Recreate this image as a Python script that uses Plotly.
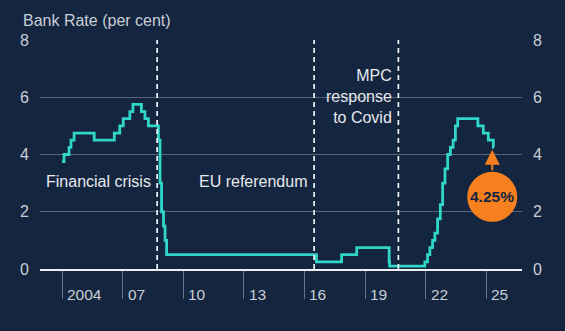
import plotly.graph_objects as go

# Bank Rate change dates and levels (per cent)
dates = ["2004-01-01", "2004-02-05", "2004-05-06", "2004-06-10", "2004-08-05",
         "2005-08-04", "2006-08-03", "2006-11-09", "2007-01-11", "2007-05-10",
         "2007-07-05", "2007-12-06", "2008-02-07", "2008-04-10", "2008-10-08",
         "2008-11-06", "2008-12-04", "2009-01-08", "2009-02-05", "2009-03-05",
         "2016-08-04", "2017-11-02", "2018-08-02", "2020-03-11", "2020-03-19",
         "2021-12-16", "2022-02-03", "2022-03-17", "2022-05-05", "2022-06-16",
         "2022-08-04", "2022-09-22", "2022-11-03", "2022-12-15", "2023-02-02",
         "2023-03-23", "2023-05-11", "2023-06-22", "2023-08-03", "2024-08-01",
         "2024-11-07", "2025-02-06", "2025-05-08", "2025-05-20"]
rates = [3.75, 4.00, 4.25, 4.50, 4.75,
         4.50, 4.75, 5.00, 5.25, 5.50,
         5.75, 5.50, 5.25, 5.00, 4.50,
         3.00, 2.00, 1.50, 1.00, 0.50,
         0.25, 0.50, 0.75, 0.25, 0.10,
         0.25, 0.50, 0.75, 1.00, 1.25,
         1.75, 2.25, 3.00, 3.50, 4.00,
         4.25, 4.50, 5.00, 5.25, 5.00,
         4.75, 4.50, 4.25, 4.25]

tick_years = [2004, 2007, 2010, 2013, 2016, 2019, 2022, 2025]
tick_labels = ["2004", "07", "10", "13", "16", "19", "22", "25"]

events = ["2008-09-15", "2016-06-23", "2020-08-25"]
event_labels = ["Financial crisis", "EU referendum", "MPC<br>response<br>to Covid"]
event_label_y = [3.05, 3.05, 6.02]

latest_label = "4.25%"
latest_date = "2025-04-18"

BG = "#14253f"
LINE = "#30d6c7"
GRID = "#56657a"
TXT = "#c9ced6"
ORANGE = "#f7801e"
FONT = "Liberation Sans, Arial, sans-serif"

fig = go.Figure()
fig.add_trace(go.Scatter(x=dates, y=rates, mode="lines", line=dict(color=LINE, width=2.8, shape="hv"),
                         hoverinfo="skip", showlegend=False))
fig.add_trace(go.Scatter(x=[dates[0]], y=[rates[0]], yaxis="y2", mode="markers",
                         marker=dict(opacity=0), showlegend=False, hoverinfo="skip"))

shapes = []
for d in events:
    shapes.append(dict(type="line", xref="x", yref="y", x0=d, x1=d, y0=0, y1=8,
                       line=dict(color="#ffffff", width=1.6, dash="5px,4px"), layer="above"))
shapes.append(dict(type="circle", xref="x", yref="y", xsizemode="pixel", ysizemode="pixel",
                   xanchor=latest_date, yanchor=2.52, x0=-25, x1=25, y0=-25, y1=25,
                   fillcolor=ORANGE, line=dict(width=0), layer="above"))

annotations = []
for d, t, y in zip(events, event_labels, event_label_y):
    annotations.append(dict(x=d, y=y, xref="x", yref="y", text=t, showarrow=False,
                            xanchor="right", yanchor="middle", align="right", xshift=-4,
                            font=dict(family=FONT, size=16, color="#e6e9ee")))
for yr, lab in zip(tick_years, tick_labels):
    annotations.append(dict(x=f"{yr}-01-01", y=0, xref="x", yref="y", text=lab, showarrow=False,
                            xanchor="left", yanchor="middle", xshift=3, yshift=-25,
                            font=dict(family=FONT, size=15.5, color=TXT)))
annotations.append(dict(x=latest_date, y=4.17, xref="x", yref="y", ax=0, ay=22, text="",
                        showarrow=True, arrowhead=2, arrowsize=1.5, arrowwidth=2, arrowcolor=ORANGE))
annotations.append(dict(x=latest_date, y=2.52, xref="x", yref="y", text=f"<b>{latest_label}</b>",
                        showarrow=False, font=dict(family=FONT, size=15.5, color=BG)))
annotations.append(dict(x=0, y=1, xref="paper", yref="paper", text="Bank Rate (per cent)",
                        showarrow=False, xanchor="left", yanchor="middle", xshift=-19, yshift=20,
                        font=dict(family=FONT, size=16, color=TXT)))

fig.update_layout(
    width=565, height=331,
    margin=dict(l=40, r=43, t=40, b=62),
    paper_bgcolor=BG, plot_bgcolor=BG,
    showlegend=False,
    shapes=shapes, annotations=annotations,
    xaxis=dict(type="date", range=["2002-11-28", "2026-10-08"],
               tickvals=[f"{y}-01-01" for y in tick_years], showticklabels=False,
               ticks="outside", ticklen=28, tickcolor="#66738a", tickwidth=1,
               showgrid=False, zeroline=False, showline=True, linecolor="#eef0f3", linewidth=2),
    yaxis=dict(range=[0, 8], tickvals=[0, 2, 4, 6, 8], showgrid=True, gridcolor=GRID, gridwidth=1,
               zeroline=False, tickfont=dict(family=FONT, size=16, color=TXT), ticklabelstandoff=10),
    yaxis2=dict(range=[0, 8], tickvals=[0, 2, 4, 6, 8], overlaying="y", side="right", showgrid=False,
                zeroline=False, tickfont=dict(family=FONT, size=16, color=TXT), ticklabelstandoff=10),
)

fig.write_html("out.html")
